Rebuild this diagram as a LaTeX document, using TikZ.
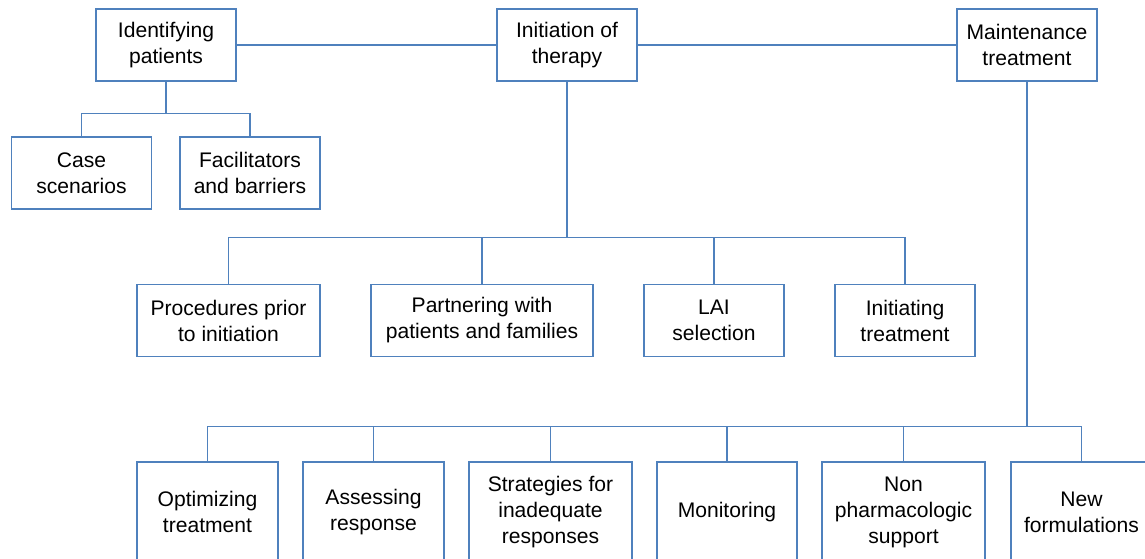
\documentclass[tikz,border=0pt]{standalone}
\usepackage{fontspec}
\setmainfont{Liberation Sans}
\usetikzlibrary{calc}
\definecolor{boxblue}{HTML}{4F81BD}

\begin{document}
\begin{tikzpicture}[x=0.02cm, y=-0.02cm,
		topic/.style={draw=boxblue, line width=0.8pt, fill=white, align=center,
			minimum width=2.8cm, minimum height=1.44cm, inner sep=0pt,
			font=\fontsize{12}{14.8}\selectfont},
		link/.style={draw=boxblue, line width=0.8pt}]
			%%%%% START %%%%%
			
			\useasboundingbox (0, 0) rectangle (1145, 558);
			\clip (0, 0) rectangle (1145, 558);
			
			% top row
			\node[topic] (idp) at (166, 45) {Identifying\\patients};
			\node[topic] (ini) at (567, 45) {Initiation of\\therapy};
			\node[topic] (mnt) at (1027, 45) {Maintenance\\treatment};
			
			\draw[link] (idp.east) -- (ini.west);
			\draw[link] (ini.east) -- (mnt.west);
			
			% identifying patients
			\node[topic] (case) at (81.5, 173) {Case\\scenarios};
			\node[topic] (fac) at (250, 173) {Facilitators\\and barriers};
			
			\foreach \kid in {case, fac}
				\draw[link] (idp.south) -- ++(0, 32) -| (\kid.north);
			
			% initiation of therapy
			\node[topic, minimum width=3.66cm] (proc) at (228.5, 320.5) {Procedures prior\\to initiation};
			\node[topic, minimum width=4.44cm] (part) at (482, 320.5) {Partnering with\\patients and families};
			\node[topic] (lai) at (714, 320.5) {LAI\\selection};
			\node[topic] (initg) at (905, 320.5) {Initiating\\treatment};
			
			\foreach \kid in {proc, part, lai, initg}
				\draw[link] (ini.south) -- ++(0, 156) -| (\kid.north);
			
			% maintenance treatment
			\node[topic, minimum width=2.82cm, minimum height=2cm] (opt) at (207.5, 512) {Optimizing\\treatment};
			\node[topic, minimum width=2.82cm, minimum height=2cm] (ass) at (373.5, 512) {Assessing\\response};
			\node[topic, minimum width=3.26cm, minimum height=2cm] (strat) at (550.5, 512) {Strategies for\\inadequate\\responses};
			\node[topic, minimum height=2cm] (mon) at (727, 512) {Monitoring};
			\node[topic, minimum width=3.26cm, minimum height=2cm] (non) at (903.5, 512) {Non\\pharmacologic\\support};
			\node[topic, minimum width=2.82cm, minimum height=2cm] (new) at (1081.5, 512) {New\\formulations};
			
			\foreach \kid in {opt, ass, strat, mon, non, new}
				\draw[link] (mnt.south) -- ++(0, 345) -| (\kid.north);
			
			%%%%% END %%%%%
\end{tikzpicture}
\end{document}
